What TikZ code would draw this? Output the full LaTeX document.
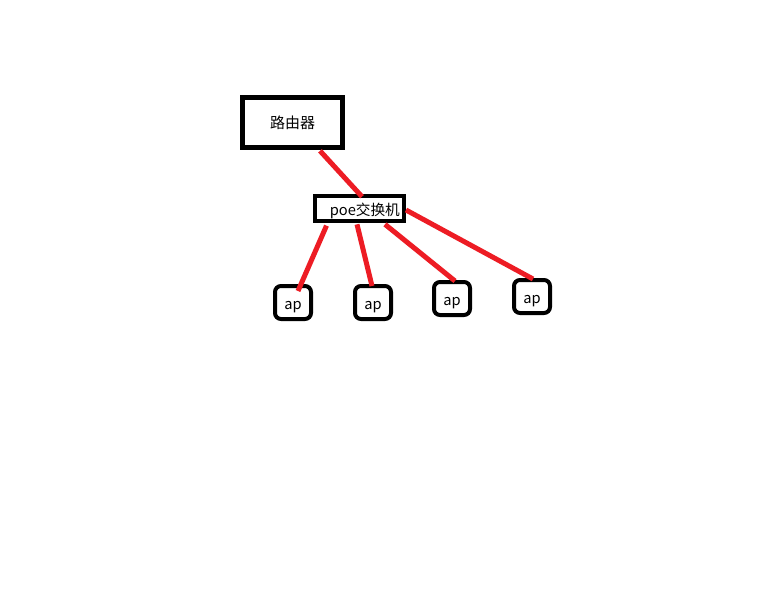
\documentclass[tikz,border=0pt]{standalone}
\usepackage{fontspec}
\setmainfont{Noto Sans CJK SC}
\usepackage{tikz}
\usetikzlibrary{calc}
\definecolor{paintred}{RGB}{237,28,36}
\tikzset{
  box/.style={draw=black,line width=3.75pt,fill=white,inner sep=0pt,align=center,
              text height=10pt,text depth=0pt},
  routerbox/.style={box,minimum width=75pt,minimum height=37.5pt,font=\fontsize{11.25}{13}\selectfont},
  switchbox/.style={box,line width=3pt,minimum width=66.75pt,minimum height=18.75pt,font=\fontsize{11}{12}\selectfont},
  apbox/.style={box,line width=3pt,rounded corners=4.5pt,minimum width=27pt,minimum height=24.75pt,font=\fontsize{11}{12}\selectfont},
  link/.style={paintred,line width=3.75pt},
}

\begin{document}
\begin{tikzpicture}[x=0.75pt,y=-0.75pt]
  \path[use as bounding box,fill=white] (0,0) rectangle (768,614);

  \node[routerbox] (router) at (292.5,122) {路由器};
  \node[switchbox] (poe) at (359.5,208.5) {\hspace*{8pt}poe交换机};

  \node[apbox] (ap1) at (293,302.5) {ap};
  \node[apbox] (ap2) at (373,302.5) {ap};
  \node[apbox] (ap3) at (452,298.5) {ap};
  \node[apbox] (ap4) at (532,296.5) {ap};

  % red cables
  \draw[link] ([xshift=27.5*0.75pt,yshift=-1pt]router.south) -- ([xshift=2.5*0.75pt,yshift=-2pt]poe.north);
  \draw[link] ([xshift=-33*0.75pt,yshift=-2pt]poe.south) -- ([xshift=5*0.75pt,yshift=-7*0.75pt]ap1.north);
  \draw[link] ([xshift=-2.5*0.75pt,yshift=-1pt]poe.south) -- ([xshift=-1*0.75pt,yshift=-2*0.75pt]ap2.north);
  \draw[link] ([xshift=25.5*0.75pt,yshift=-1pt]poe.south) -- ([xshift=3*0.75pt,yshift=-1*0.75pt]ap3.north);
  \draw[link] ([yshift=-1.5*0.75pt]poe.east) -- ([xshift=1*0.75pt,yshift=-1*0.75pt]ap4.north);
\end{tikzpicture}
\end{document}
